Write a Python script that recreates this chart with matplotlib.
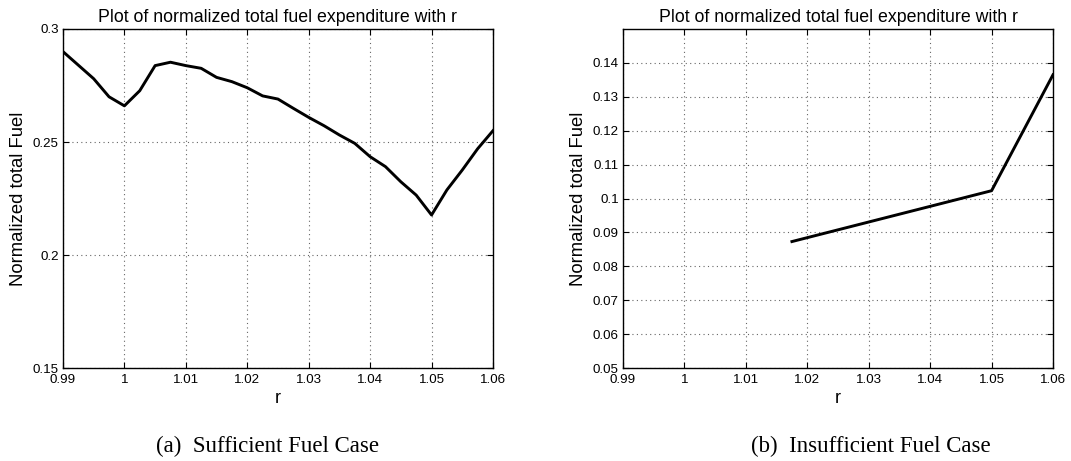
import matplotlib
matplotlib.use("Agg")
import matplotlib.pyplot as plt

plt.rcParams['font.family'] = ['Liberation Sans', 'DejaVu Sans']

# Sufficient fuel case (a)
r_suff = [0.99, 0.9925, 0.995, 0.9975, 1.0, 1.0025, 1.005, 1.0075, 1.01, 1.0125,
          1.015, 1.0175, 1.02, 1.0225, 1.025, 1.0275, 1.03, 1.0325, 1.035, 1.0375,
          1.04, 1.0425, 1.045, 1.0475, 1.05, 1.0525, 1.055, 1.0575, 1.06]
fuel_suff = [0.290, 0.284, 0.278, 0.270, 0.266, 0.2727, 0.2838, 0.2853, 0.2838, 0.2826,
             0.2786, 0.2767, 0.2740, 0.2704, 0.2690, 0.2649, 0.2609, 0.2572, 0.2531, 0.2494,
             0.2435, 0.2391, 0.2324, 0.2265, 0.2177, 0.2288, 0.2376, 0.2470, 0.2550]

# Insufficient fuel case (b)
r_insuff = [1.0175, 1.05, 1.06]
fuel_insuff = [0.0873, 0.1023, 0.1365]

x_ticks = [0.99, 1.0, 1.01, 1.02, 1.03, 1.04, 1.05, 1.06]
x_labels = ['0.99', '1', '1.01', '1.02', '1.03', '1.04', '1.05', '1.06']
y_ticks_a = [0.15, 0.2, 0.25, 0.3]
y_labels_a = ['0.15', '0.2', '0.25', '0.3']
y_ticks_b = [0.05, 0.06, 0.07, 0.08, 0.09, 0.1, 0.11, 0.12, 0.13, 0.14]
y_labels_b = ['0.05', '0.06', '0.07', '0.08', '0.09', '0.1', '0.11', '0.12', '0.13', '0.14']

title = 'Plot of normalized total fuel expenditure with r'

fig = plt.figure(figsize=(10.71, 4.61), dpi=100)
ax1 = fig.add_axes([0.0588, 0.2017, 0.4015, 0.7354])
ax2 = fig.add_axes([0.5817, 0.2017, 0.4015, 0.7354])

setups = [
    (ax1, r_suff, fuel_suff, y_ticks_a, y_labels_a, (0.15, 0.3), '(a)  Sufficient Fuel Case', 268),
    (ax2, r_insuff, fuel_insuff, y_ticks_b, y_labels_b, (0.05, 0.15), '(b)  Insufficient Fuel Case', 871),
]

for ax, x, y, yt, yl, ylim, cap, cap_x in setups:
    ax.plot(x, y, color='black', lw=2.1)
    ax.set_xlim(0.99, 1.06)
    ax.set_ylim(*ylim)
    ax.set_xticks(x_ticks)
    ax.set_xticklabels(x_labels)
    ax.set_yticks(yt)
    ax.set_yticklabels(yl)
    ax.tick_params(direction='in', top=True, right=True, labelsize=9.6, length=4)
    ax.tick_params(axis='x', pad=4.5)
    ax.tick_params(axis='y', pad=3)
    ax.grid(True, linestyle=(0, (1, 3)), color='#666666', linewidth=0.8)
    for s in ax.spines.values():
        s.set_linewidth(1.0)
    ax.set_title(title, fontsize=12.8, pad=5)
    ax.set_xlabel('r', fontsize=13, labelpad=3)
    ax.set_ylabel('Normalized total Fuel', fontsize=13.3, labelpad=4)
    fig.text(cap_x / 1071, 1 - 446 / 461, cap, ha='center', va='center',
             fontsize=16.5, family=['Liberation Serif', 'DejaVu Serif'])

fig.savefig('out.png', dpi=100)
